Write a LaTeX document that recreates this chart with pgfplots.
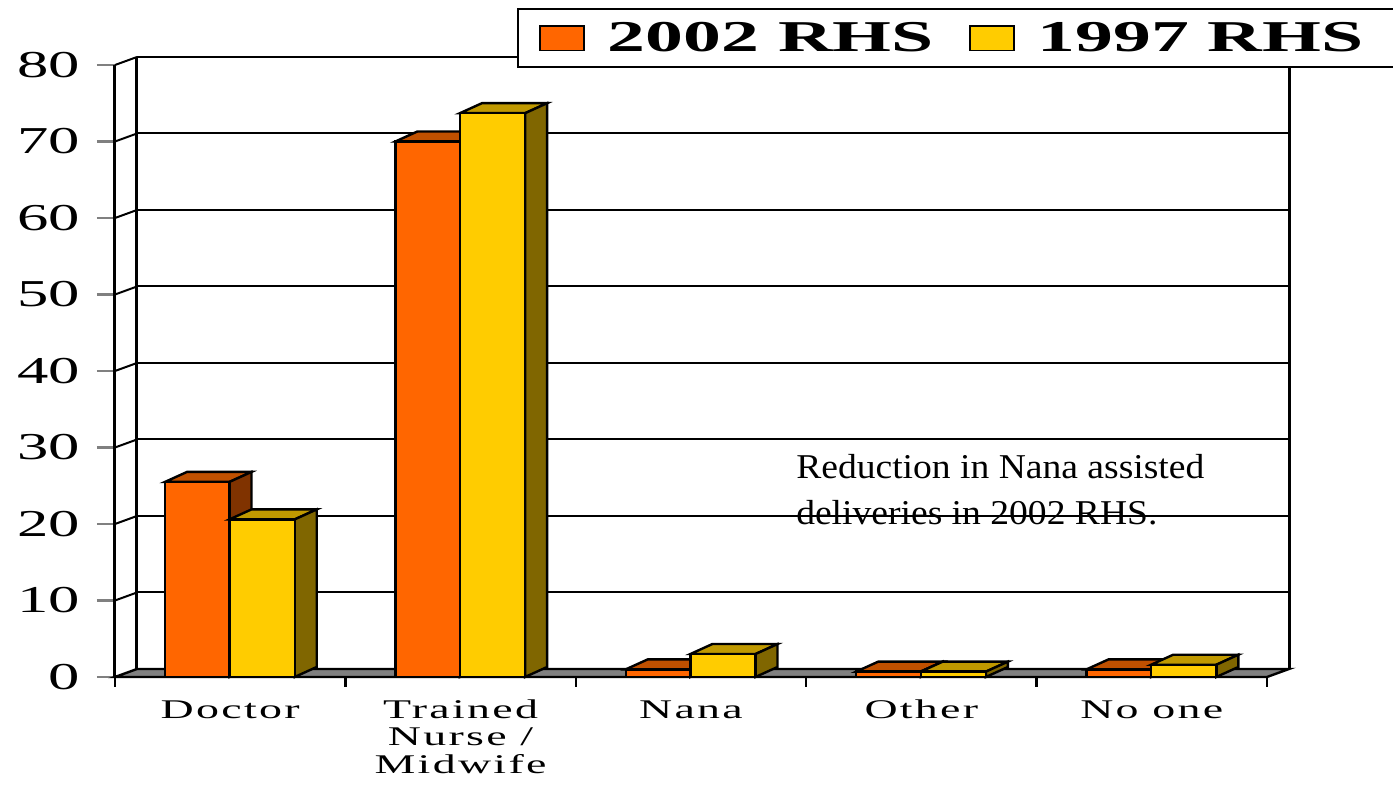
\documentclass[border=0pt]{standalone}
\usepackage{pgfplots}
\usepackage{pgfplotstable}
\usepackage{graphicx}
\usepackage{fontspec}
\pgfplotsset{compat=1.18}
\setmainfont{Liberation Serif}
\newfontfamily\catfont[LetterSpace=5]{Liberation Serif}
\newfontfamily\tickfont{Liberation Serif}

\definecolor{oF}{HTML}{FF6600}
\definecolor{oT}{HTML}{C05000}
\definecolor{oS}{HTML}{803300}
\definecolor{yF}{HTML}{FFCC00}
\definecolor{yT}{HTML}{C09900}
\definecolor{yS}{HTML}{806600}
\definecolor{flo}{HTML}{808080}

% g: category index, a: 2002 RHS, b: 1997 RHS
\pgfplotstableread{
g a b
0 25.5 20.6
1 70.0 73.7
2 1.0 3.0
3 0.7 0.7
4 1.0 1.6
}\data

\newcommand\catlab[1]{\scalebox{1.7}[1]{\catfont\fontsize{13.5}{13.75}\selectfont\begin{tabular}{@{}c@{}}#1\end{tabular}}}
\newcommand\ylab[1]{\scalebox{1.65}[1]{\tickfont\fontsize{19}{19}\selectfont #1}}

\def\wdx{0.09549}\def\wdy{1.0458}
\def\bdx{0.09549}\def\bdy{1.307}

\pgfplotsset{
 face/.style={draw=black, line width=1.2pt, line join=miter},
}

\begin{document}
\begin{tikzpicture}
\begin{axis}[
  scale only axis, width=576pt, height=306pt,
  xmin=0, xmax=5, ymin=0, ymax=80,
  clip=false,
  /pgf/number format/assume math mode=true,
  axis x line=bottom, axis y line=left,
  axis line style={-, line width=1.5pt},
  tick align=outside,
  xtick={0,1,2,3,4,5},
  x tick label as interval,
  xticklabels={\catlab{Doctor},\catlab{Trained\\Nurse /\\Midwife},\catlab{Nana},\catlab{Other},\catlab{No one}},
  xticklabel style={anchor=north, yshift=1.5pt},
  ytick={0,10,...,80},
  yticklabel={\ylab{\pgfmathprintnumber{\tick}}},
  yticklabel style={anchor=east, xshift=-5pt},
  major tick length=9pt,
  x tick style={draw=none},
  y tick style={line width=1.2pt},
  legend style={at={(rel axis cs:0.349,1.0931)}, anchor=north west,
     draw=black, line width=1pt, inner xsep=3pt, inner ysep=4.5pt,
     font=\bfseries\fontsize{22}{22}\selectfont,
     legend columns=2,
     /tikz/every even column/.append style={column sep=8pt},
     legend cell align=left},
  legend image code/.code={\path (0pt,0pt); \draw[#1, line width=0.8pt] (7.5pt,-6.2pt) rectangle (29.5pt,6.2pt);},
]
% legend
\addlegendimage{fill=oF, draw=black}
\addlegendentry{\hspace*{9.5pt}\scalebox{1.72}[1]{2002 RHS}}
\addlegendimage{fill=yF, draw=black}
\addlegendentry{\hspace*{9.5pt}\scalebox{1.72}[1]{1997 RHS}\hspace*{18pt}}

% annotation (behind gridlines)
\node[anchor=north west, align=left, inner sep=0pt, font=\fontsize{17.4}{23}\selectfont, xscale=1.08]
  at (axis cs:2.955,29.2) {Reduction in Nana assisted\\deliveries in 2002 RHS.};

% floor
\draw[fill=flo, line width=1.2pt] (axis cs:0,0) -- (axis cs:5,0) -- (axis cs:5+\wdx,\wdy) -- (axis cs:\wdx,\wdy) -- cycle;
% x tick marks (category boundaries)
\pgfplotsinvokeforeach{0,1,2,3,4,5}{
  \draw[line width=1.2pt] (axis cs:#1,0) -- ++(0,-5pt);
}
% gridlines on back wall and left wall connectors
\pgfplotsinvokeforeach{10,20,30,40,50,60,70,80}{
  \draw[line width=1pt] (axis cs:\wdx,#1+\wdy) -- (axis cs:5+\wdx,#1+\wdy);
  \draw[line width=1pt] (axis cs:0,#1) -- (axis cs:\wdx,#1+\wdy);
}
\draw[line width=1.5pt] (axis cs:\wdx,\wdy) -- (axis cs:\wdx,80+\wdy);
\draw[line width=1.5pt] (axis cs:5+\wdx,\wdy) -- (axis cs:5+\wdx,80+\wdy);

% 3D bars
\pgfplotsinvokeforeach{0,1,2,3,4}{
  \pgfplotstablegetelem{#1}{a}\of\data \let\va\pgfplotsretval
  \pgfplotstablegetelem{#1}{b}\of\data \let\vb\pgfplotsretval
  \pgfmathsetmacro\xa{#1+0.217}
  \pgfmathsetmacro\xb{#1+0.497}
  \pgfmathsetmacro\xc{#1+0.780}
  \pgfmathsetmacro\xad{\xa+\bdx}
  \pgfmathsetmacro\xbd{\xb+\bdx}
  \pgfmathsetmacro\xcd{\xc+\bdx}
  \pgfmathsetmacro\vad{\va+\bdy}
  \pgfmathsetmacro\vbd{\vb+\bdy}
  \edef\tmp{%
   \noexpand\addplot[face, fill=oT] coordinates {(\xa,\va) (\xb,\va) (\xbd,\vad) (\xad,\vad)} -- cycle;
   \noexpand\addplot[face, fill=oS] coordinates {(\xb,0) (\xb,\va) (\xbd,\vad) (\xbd,\bdy)} -- cycle;
   \noexpand\addplot[face, fill=oF] coordinates {(\xa,0) (\xb,0) (\xb,\va) (\xa,\va)} -- cycle;
   \noexpand\addplot[face, fill=yT] coordinates {(\xb,\vb) (\xc,\vb) (\xcd,\vbd) (\xbd,\vbd)} -- cycle;
   \noexpand\addplot[face, fill=yS] coordinates {(\xc,0) (\xc,\vb) (\xcd,\vbd) (\xcd,\bdy)} -- cycle;
   \noexpand\addplot[face, fill=yF] coordinates {(\xb,0) (\xc,0) (\xc,\vb) (\xb,\vb)} -- cycle;
  }\tmp
}

\coordinate (bbl) at (axis cs:-0.49913,-14.64);
\coordinate (btr) at (axis cs:5.5469,88.497);
\end{axis}
\pgfresetboundingbox
\path[use as bounding box] (bbl) rectangle (btr);
\end{tikzpicture}
\end{document}
